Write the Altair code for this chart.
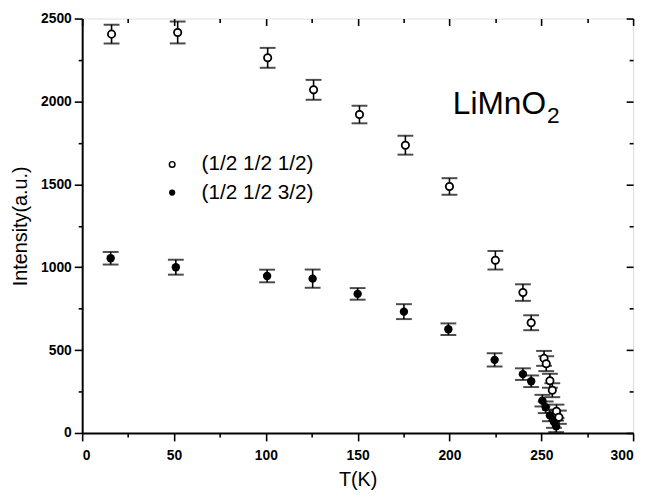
import altair as alt
import pandas as pd

# (1/2 1/2 1/2) open circles
T_half = [16, 52, 101, 126, 151, 176, 200, 225, 240, 244.5, 251.5, 252.7, 254.7, 256, 258.3, 259.6]
I_half = [2406, 2416, 2263, 2070, 1921, 1736, 1487, 1042, 847, 665, 450, 418, 315, 258, 131, 95]
E_half = [57, 66, 60, 60, 53, 57, 50, 56, 50, 45, 45, 45, 42, 42, 40, 40]

# (1/2 1/2 3/2) filled circles
T_three = [15.5, 51, 100.7, 125.5, 150, 175.2, 199.4, 224.6, 240, 244.5, 250.6, 252.4, 254.7, 256.9, 258.1]
I_three = [1054, 1000, 947, 931, 839, 732, 626, 441, 355, 312, 195, 155, 106, 66, 40]
E_three = [38, 45, 38, 55, 35, 45, 35, 40, 35, 35, 35, 35, 35, 35, 35]

legend_labels = ["(1/2 1/2 1/2)", "(1/2 1/2 3/2)"]
x_major = [0, 50, 100, 150, 200, 250, 300]
x_minor = [25, 75, 125, 175, 225, 275]
y_major = [0, 500, 1000, 1500, 2000, 2500]
y_minor = [250, 750, 1250, 1750, 2250]

FONT = "Liberation Sans"

rows = []
for t, i, e in zip(T_half, I_half, E_half):
    rows.append({"series": "half", "T": t, "I": i, "lo": i - e, "hi": i + e})
for t, i, e in zip(T_three, I_three, E_three):
    rows.append({"series": "three", "T": t, "I": i, "lo": i - e, "hi": i + e})
df = pd.DataFrame(rows)

caps = pd.concat([
    df[["T", "lo"]].rename(columns={"lo": "v"}),
    df[["T", "hi"]].rename(columns={"hi": "v"}),
])

xsc = alt.Scale(domain=[0, 300], nice=False, zero=False)
ysc = alt.Scale(domain=[0, 2500], nice=False)

ax_common = dict(labelFont=FONT, titleFont=FONT, labelColor="black", titleColor="black",
                 tickColor="black", domainColor="black", grid=False, tickWidth=1.6)

x_main_axis = alt.Axis(values=x_major, format="d", tickSize=8, labelFontSize=14, labelPadding=8,
                       titleFontSize=20, titleFontWeight="normal", titlePadding=7,
                       domainWidth=2, labelFontWeight="bold", **ax_common)
y_main_axis = alt.Axis(values=y_major, format="d", tickSize=8, labelFontSize=14, labelPadding=3,
                       titleFontSize=20, titleFontWeight="normal", titlePadding=10,
                       domainWidth=2, labelFontWeight="bold", **ax_common)
x_minor_axis = alt.Axis(values=x_minor, tickSize=4, labels=False, domain=False, title="", **ax_common)
y_minor_axis = alt.Axis(values=y_minor, tickSize=4, labels=False, domain=False, title="", **ax_common)
x_top_major = alt.Axis(orient="top", values=x_major, tickSize=7, offset=-7, labels=False,
                       domain=False, title="", **ax_common)
y_right_major = alt.Axis(orient="right", values=y_major, tickSize=7, offset=-7, labels=False,
                         domain=False, title="", **ax_common)
x_top_minor = alt.Axis(orient="top", values=x_minor, tickSize=4, offset=-4, labels=False,
                       domain=False, title="", **ax_common)
y_right_minor = alt.Axis(orient="right", values=y_minor, tickSize=4, offset=-4, labels=False,
                         domain=False, title="", **ax_common)

base = alt.Chart(df)

bars = base.mark_rule(color="black", strokeWidth=1.6).encode(
    x=alt.X("T:Q", scale=xsc, axis=x_minor_axis),
    y=alt.Y("lo:Q", scale=ysc, axis=y_minor_axis),
    y2="hi:Q",
)

cap_marks = alt.Chart(caps).mark_tick(orient="horizontal", size=16, thickness=2, color="black").encode(
    x=alt.X("T:Q", scale=xsc, axis=x_top_major),
    y=alt.Y("v:Q", scale=ysc, axis=y_right_major),
)

filled = base.transform_filter(alt.datum.series == "three").mark_point(
    shape="circle", filled=True, color="black", opacity=1, size=72
).encode(
    x=alt.X("T:Q", scale=xsc, axis=x_top_minor),
    y=alt.Y("I:Q", scale=ysc, axis=y_right_minor),
)

opened = base.transform_filter(alt.datum.series == "half").mark_point(
    shape="circle", filled=True, fill="white", stroke="black", strokeWidth=1.8, opacity=1, size=55
).encode(
    x=alt.X("T:Q", scale=xsc, axis=x_main_axis, title="T(K)"),
    y=alt.Y("I:Q", scale=ysc, axis=y_main_axis, title="Intensity(a.u.)"),
)

leg = pd.DataFrame({"label": legend_labels, "mx": [49, 49], "tx": [65, 65], "y": [1620, 1450],
                    "kind": ["open", "filled"]})
leg_open = alt.Chart(leg).transform_filter(alt.datum.kind == "open").mark_point(
    shape="circle", filled=True, fill="white", stroke="black", strokeWidth=1.5, opacity=1, size=32
).encode(x=alt.X("mx:Q", scale=xsc, axis=None), y=alt.Y("y:Q", scale=ysc, axis=None))
leg_fill = alt.Chart(leg).transform_filter(alt.datum.kind == "filled").mark_point(
    shape="circle", filled=True, color="black", opacity=1, size=40
).encode(x=alt.X("mx:Q", scale=xsc, axis=None), y=alt.Y("y:Q", scale=ysc, axis=None))
leg_text = alt.Chart(leg).mark_text(font=FONT, fontSize=21, align="left", baseline="middle",
                                    color="black").encode(
    x=alt.X("tx:Q", scale=xsc, axis=None), y=alt.Y("y:Q", scale=ysc, axis=None), text="label:N")

comp = pd.DataFrame({"x": [252.6], "y": [1927], "ys": [1868], "main": ["LiMnO"], "sub": ["2"]})
comp_main = alt.Chart(comp).mark_text(font=FONT, fontSize=32, align="right", baseline="alphabetic",
                                      color="black").encode(
    x=alt.X("x:Q", scale=xsc, axis=None), y=alt.Y("y:Q", scale=ysc, axis=None), text="main:N")
comp_sub = alt.Chart(comp).mark_text(font=FONT, fontSize=23, align="left", baseline="alphabetic",
                                     color="black", dx=1).encode(
    x=alt.X("x:Q", scale=xsc, axis=None), y=alt.Y("ys:Q", scale=ysc, axis=None), text="sub:N")

chart = alt.layer(
    bars, cap_marks, filled, opened, leg_open, leg_fill, leg_text, comp_main, comp_sub
).resolve_axis(x="independent", y="independent").properties(
    width=557, height=419,
    autosize=alt.AutoSizeParams(type="none"),
    padding={"left": 75, "top": 8, "right": 10, "bottom": 56},
).configure_view(stroke="black", strokeWidth=2).configure(background="white")

chart.save("out.html", embed_options={"renderer": "svg", "actions": False})
